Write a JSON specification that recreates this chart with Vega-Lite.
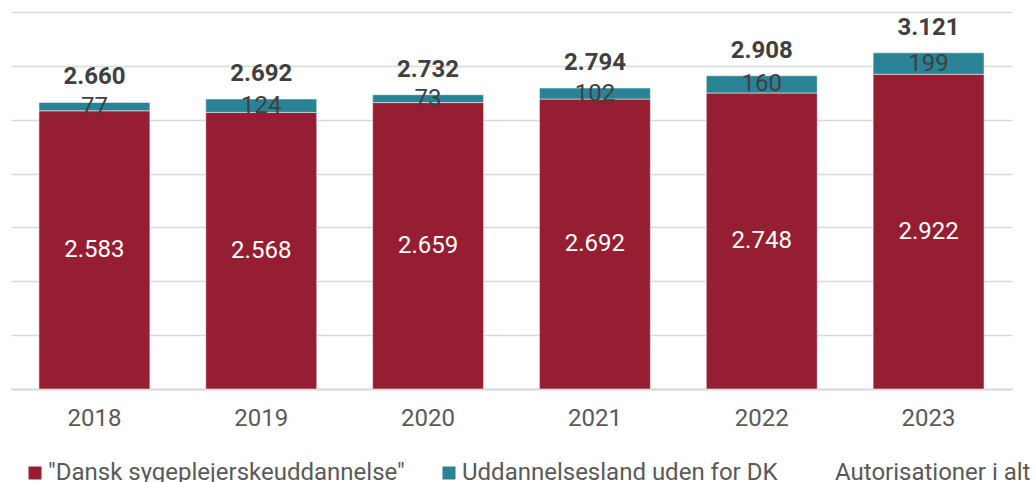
{
  "$schema": "https://vega.github.io/schema/vega-lite/v6.json",
  "autosize": "none",
  "width": 1001,
  "height": 377,
  "padding": {"left": 11, "top": 12, "right": 24, "bottom": 93},
  "background": "white",
  "config": {
    "locale": {"number": {"decimal": ",", "thousands": ".", "grouping": [3], "currency": ["", " kr."]}},
    "view": {"stroke": null},
    "font": "Roboto"
  },
  "datasets": {
    "parts": [
      {"year": "2018", "category": "\"Dansk sygeplejerskeuddannelse\"", "value": 2583, "ord": 1},
      {"year": "2019", "category": "\"Dansk sygeplejerskeuddannelse\"", "value": 2568, "ord": 1},
      {"year": "2020", "category": "\"Dansk sygeplejerskeuddannelse\"", "value": 2659, "ord": 1},
      {"year": "2021", "category": "\"Dansk sygeplejerskeuddannelse\"", "value": 2692, "ord": 1},
      {"year": "2022", "category": "\"Dansk sygeplejerskeuddannelse\"", "value": 2748, "ord": 1},
      {"year": "2023", "category": "\"Dansk sygeplejerskeuddannelse\"", "value": 2922, "ord": 1},
      {"year": "2018", "category": "Uddannelsesland uden for DK", "value": 77, "ord": 2},
      {"year": "2019", "category": "Uddannelsesland uden for DK", "value": 124, "ord": 2},
      {"year": "2020", "category": "Uddannelsesland uden for DK", "value": 73, "ord": 2},
      {"year": "2021", "category": "Uddannelsesland uden for DK", "value": 102, "ord": 2},
      {"year": "2022", "category": "Uddannelsesland uden for DK", "value": 160, "ord": 2},
      {"year": "2023", "category": "Uddannelsesland uden for DK", "value": 199, "ord": 2}
    ],
    "totals": [
      {"year": "2018", "category": "Autorisationer i alt", "total": 2660},
      {"year": "2019", "category": "Autorisationer i alt", "total": 2692},
      {"year": "2020", "category": "Autorisationer i alt", "total": 2732},
      {"year": "2021", "category": "Autorisationer i alt", "total": 2794},
      {"year": "2022", "category": "Autorisationer i alt", "total": 2908},
      {"year": "2023", "category": "Autorisationer i alt", "total": 3121}
    ]
  },
  "encoding": {
    "x": {
      "field": "year", "type": "nominal",
      "scale": {"paddingInner": 0.335, "paddingOuter": 0.1675},
      "axis": {
        "title": null, "labelAngle": 0, "labelFontSize": 24, "labelColor": "#595959",
        "labelPadding": 17, "ticks": false, "domain": true, "domainColor": "#d9d9d9", "domainWidth": 2,
        "labelFont": "Roboto"
      }
    }
  },
  "layer": [
    {
      "data": {"name": "parts"},
      "transform": [
        {"stack": "value", "groupby": ["year"], "sort": [{"field": "ord"}], "as": ["v0", "v1"]}
      ],
      "mark": {"type": "bar", "stroke": "white", "strokeWidth": 0.5},
      "encoding": {
        "y": {
          "field": "v0", "type": "quantitative",
          "scale": {"domain": [0, 3500], "nice": false},
          "axis": {
            "title": null, "labels": false, "ticks": false, "domain": false,
            "values": [0, 500, 1000, 1500, 2000, 2500, 3000, 3500],
            "gridColor": "#d9d9d9", "gridWidth": 1.5
          }
        },
        "y2": {"field": "v1"},
        "color": {
          "field": "category", "type": "nominal",
          "scale": {
            "domain": ["\"Dansk sygeplejerskeuddannelse\"", "Uddannelsesland uden for DK", "Autorisationer i alt"],
            "range": ["#961E32", "#2A8395", "rgba(255,255,255,0)"]
          },
          "legend": {
            "title": null, "orient": "none", "direction": "horizontal",
            "legendX": 12, "legendY": 449,
            "symbolType": "square", "symbolSize": 169, "symbolStrokeWidth": 0,
            "labelFontSize": 24, "labelColor": "#595959", "labelFont": "Roboto",
            "columnPadding": 32, "labelOffset": 1, "labelLimit": 500
          }
        }
      }
    },
    {
      "data": {"name": "parts"},
      "transform": [
        {"stack": "value", "groupby": ["year"], "sort": [{"field": "ord"}], "as": ["v0", "v1"]},
        {"calculate": "(datum.v0 + datum.v1) / 2", "as": "vmid"}
      ],
      "mark": {"type": "text", "fontSize": 24, "baseline": "middle", "font": "Roboto"},
      "encoding": {
        "y": {"field": "vmid", "type": "quantitative"},
        "text": {"field": "value", "type": "quantitative", "format": ",d"},
        "color": {
          "condition": {"test": "datum.ord === 1", "value": "white"},
          "value": "#404040"
        }
      }
    },
    {
      "data": {"name": "totals"},
      "mark": {"type": "text", "fontSize": 24, "fontWeight": "bold", "baseline": "alphabetic", "dy": -18, "color": "#404040", "font": "Roboto"},
      "encoding": {
        "y": {"field": "total", "type": "quantitative"},
        "text": {"field": "total", "type": "quantitative", "format": ",d"}
      }
    }
  ],
  "resolve": {"scale": {"color": "independent"}}
}
